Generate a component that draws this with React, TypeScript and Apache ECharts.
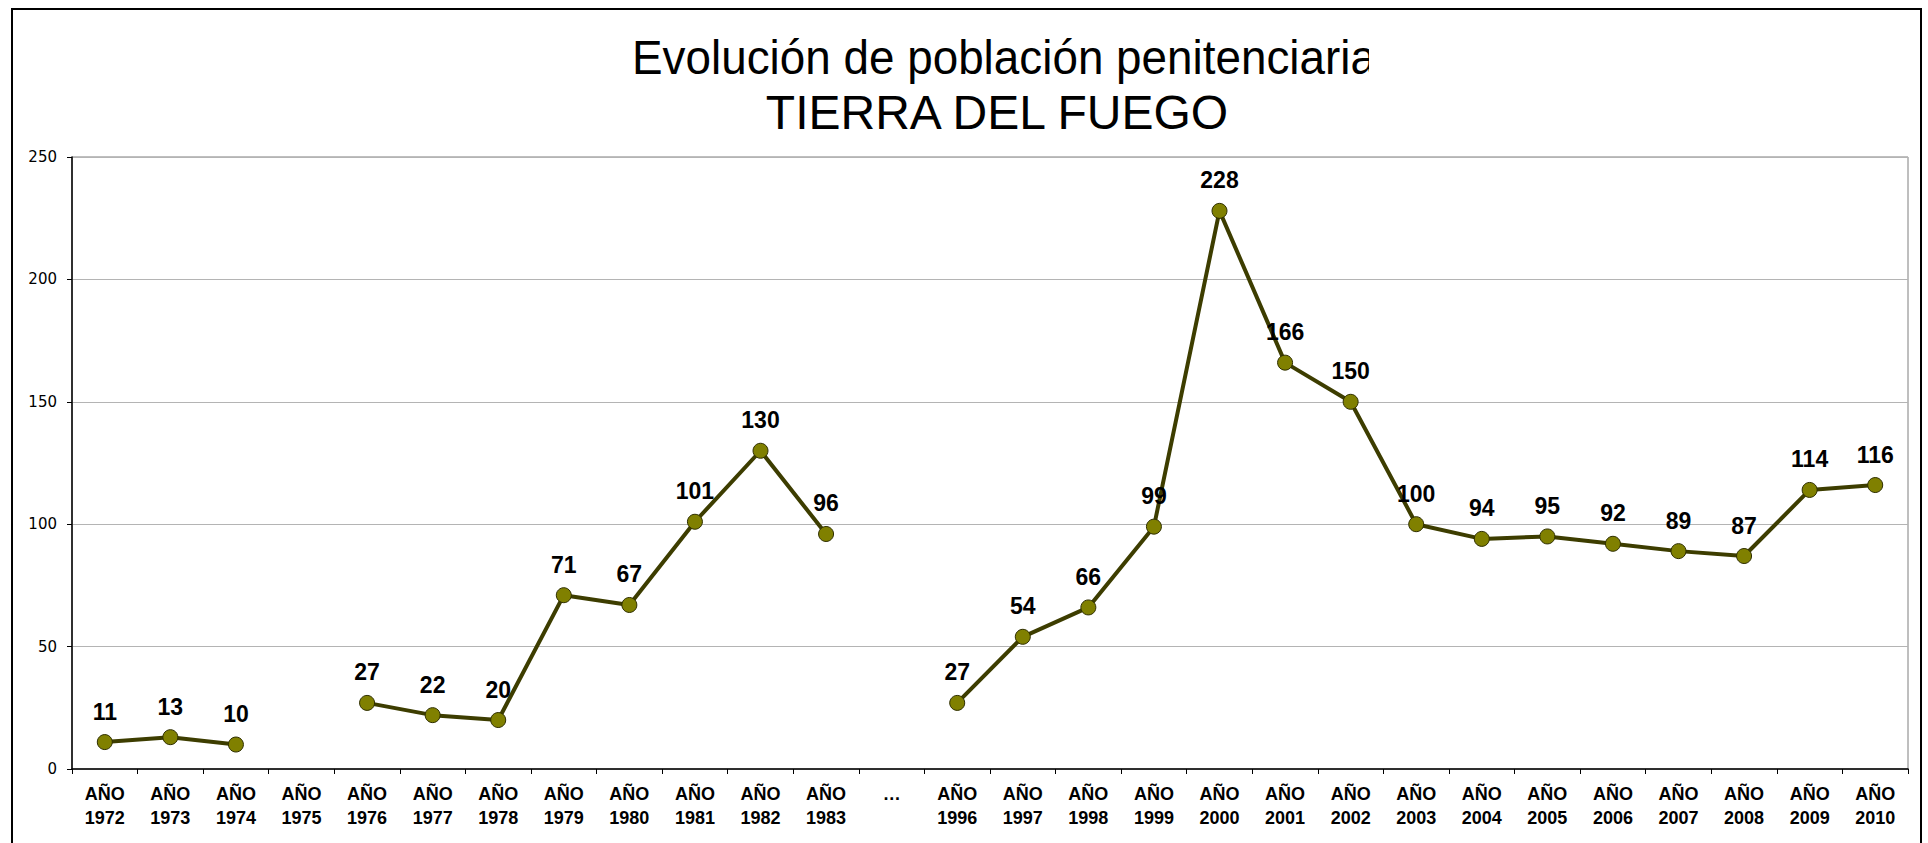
import React, { useEffect, useRef } from "react";
import * as echarts from "echarts";

const years: string[] = [
  "1972", "1973", "1974", "1975", "1976", "1977", "1978", "1979", "1980", "1981", "1982", "1983",
  "…",
  "1996", "1997", "1998", "1999", "2000", "2001", "2002", "2003", "2004", "2005", "2006", "2007", "2008", "2009", "2010",
];

const population: (number | null)[] = [
  11, 13, 10, null, 27, 22, 20, 71, 67, 101, 130, 96,
  null,
  27, 54, 66, 99, 228, 166, 150, 100, 94, 95, 92, 89, 87, 114, 116,
];

const titleLine1 = "Evolución de población penitenciaria";
const titleLine2 = "TIERRA DEL FUEGO";

const yMin = 0;
const yMax = 250;
const yStep = 50;

export default function App() {
  const ref = useRef<HTMLDivElement>(null);

  useEffect(() => {
    if (!ref.current) return;
    const chart = echarts.init(ref.current, null, { renderer: "svg" });
    const categories = years.map((y) => (y === "…" ? "…" : "AÑO\n" + y));
    chart.setOption({
      animation: false,
      backgroundColor: "#ffffff",
      grid: {
        left: 72,
        right: 20,
        top: 157,
        bottom: 74,
        show: true,
        borderColor: "#7f7f7f",
        borderWidth: 1,
        backgroundColor: "transparent",
      },
      graphic: [
        {
          type: "rect",
          shape: { x: 12, y: 9, width: 1909, height: 900 },
          style: { fill: "none", stroke: "#000000", lineWidth: 2 },
          silent: true,
          z: 100,
        },
        {
          type: "text",
          x: 632,
          y: 58,
          scaleX: 0.955,
          style: {
            text: titleLine1,
            font: "48px 'Liberation Sans', Arial, sans-serif",
            fill: "#000000",
            align: "left",
            verticalAlign: "middle",
          },
          z: 10,
        },
        {
          type: "rect",
          shape: { x: 1369, y: 25, width: 80, height: 65 },
          style: { fill: "#ffffff" },
          silent: true,
          z: 11,
        },
        {
          type: "text",
          x: 997,
          y: 112,
          style: {
            text: titleLine2,
            font: "48px 'Liberation Sans', Arial, sans-serif",
            fill: "#000000",
            align: "center",
            verticalAlign: "middle",
          },
          z: 10,
        },
      ],
      xAxis: {
        type: "category",
        data: categories,
        boundaryGap: true,
        axisLine: { show: true, lineStyle: { color: "#000000", width: 1.5 } },
        axisTick: { show: true, length: 5, alignWithLabel: false, interval: 0, lineStyle: { color: "#000000" } },
        axisLabel: {
          interval: 0,
          margin: 13,
          color: "#000000",
          fontFamily: "'Liberation Sans', Arial, sans-serif",
          fontWeight: "bold",
          fontSize: 18,
          lineHeight: 24,
        },
        splitLine: { show: false },
      },
      yAxis: {
        type: "value",
        min: yMin,
        max: yMax,
        interval: yStep,
        axisLine: { show: true, lineStyle: { color: "#000000", width: 1.5 } },
        axisTick: { show: true, length: 5, lineStyle: { color: "#000000" } },
        axisLabel: {
          margin: 15,
          color: "#000000",
          fontFamily: "'DejaVu Sans', Verdana, sans-serif",
          fontSize: 15,
        },
        splitLine: { show: true, lineStyle: { color: "#b4b4b4", width: 1 } },
      },
      series: [
        {
          type: "line",
          data: population,
          connectNulls: false,
          symbol: "circle",
          symbolSize: 15,
          itemStyle: { color: "#808000", borderColor: "#2e2e00", borderWidth: 1 },
          lineStyle: { color: "#3d3d00", width: 4 },
          label: {
            show: true,
            position: "top",
            distance: 11,
            color: "#000000",
            fontFamily: "'Liberation Sans', Arial, sans-serif",
            fontWeight: "bold",
            fontSize: 23,
          },
          z: 5,
        },
      ],
    });
    return () => chart.dispose();
  }, []);

  return <div ref={ref} style={{ width: 1928, height: 843, position: "absolute", left: 0, top: 0 }} />;
}
